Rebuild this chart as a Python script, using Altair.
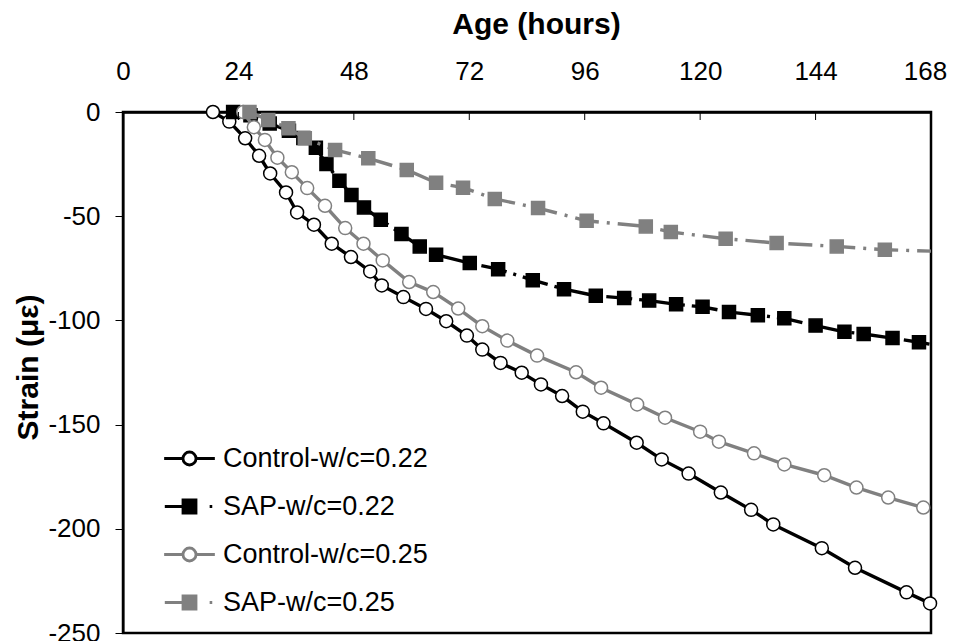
import altair as alt
import pandas as pd

# ---------------- data ----------------
series_names = ["Control-w/c=0.22", "SAP-w/c=0.22", "Control-w/c=0.25", "SAP-w/c=0.25"]

x_ticks = [0, 24, 48, 72, 96, 120, 144, 168]
y_ticks = [-250, -200, -150, -100, -50, 0]

c22_age = [18.7, 22.1, 25.4, 28.3, 30.6, 33.9, 36.2, 39.7, 43.4, 47.4, 51.4, 53.8, 58.3, 63.0,
           67.2, 71.5, 74.7, 78.5, 82.9, 86.9, 91.3, 95.6, 99.9, 106.8, 112.0, 117.6, 124.3,
           130.6, 135.2, 145.3, 152.2, 162.9, 167.8]
c22_strain = [0, -4.6, -12.6, -21.0, -29.5, -38.6, -48.2, -54.1, -63.2, -69.6, -76.5, -83.2, -88.8,
              -94.5, -100.4, -107.3, -114.0, -120.4, -125.1, -130.7, -136.3, -143.8, -149.4,
              -158.7, -166.7, -173.5, -182.6, -190.9, -197.9, -209.3, -218.7, -230.5, -235.8]

s22_age = [22.9, 26.5, 30.5, 34.5, 37.5, 40.1, 42.3, 45.0, 47.5, 50.1, 53.6, 57.9, 61.7, 65.1,
           72.1, 78.0, 85.2, 91.7, 98.3, 104.2, 109.4, 115.0, 120.5, 126.0, 132.0, 137.5, 144.0,
           150.0, 154.0, 160.0, 165.5, 174.0]
s22_strain = [0, -1.5, -5.5, -9.0, -12.5, -17.1, -25.0, -33.0, -39.8, -45.8, -51.7, -58.6, -64.5,
              -68.5, -72.5, -75.4, -80.7, -85.0, -88.2, -89.3, -90.5, -92.3, -93.5, -96.0, -97.5,
              -99.0, -102.5, -105.5, -106.5, -108.5, -110.5, -114.0]

c25_age = [25.0, 27.2, 29.5, 32.1, 35.1, 38.3, 42.0, 46.2, 50.0, 54.0, 59.5, 64.5, 69.7, 74.7,
           79.9, 86.1, 94.2, 99.4, 106.9, 112.7, 120.0, 123.9, 131.2, 137.5, 145.8, 152.5,
           159.1, 166.4]
c25_strain = [0, -7.3, -13.4, -21.9, -28.9, -36.5, -45.0, -55.7, -63.2, -71.2, -81.6, -86.4,
              -94.3, -102.8, -109.7, -116.9, -124.9, -132.3, -140.3, -146.7, -153.4, -158.2,
              -163.8, -169.1, -174.3, -180.2, -185.0, -189.8]

s25_age = [26.3, 30.2, 34.4, 37.8, 44.1, 51.0, 59.0, 65.1, 70.7, 77.3, 86.3, 96.4, 108.7, 113.9,
           125.3, 135.9, 148.4, 158.4, 175.0]
s25_strain = [0, -3.8, -7.8, -12.6, -18.2, -22.2, -27.8, -33.9, -36.3, -41.7, -46.1, -52.2,
              -54.9, -57.6, -60.8, -62.9, -64.5, -66.1, -67.2]

series_data = [(series_names[0], c22_age, c22_strain),
               (series_names[1], s22_age, s22_strain),
               (series_names[2], c25_age, c25_strain),
               (series_names[3], s25_age, s25_strain)]

rows = []
for name, ages, strains in series_data:
    for a, s in zip(ages, strains):
        rows.append({"series": name, "age": a, "strain": s})
df = pd.DataFrame(rows)
ticks_df = pd.DataFrame({"age": x_ticks[1:-1]})

# ---------------- styles ----------------
FONT = "Liberation Sans"
BLACK = "#000000"
GRAY = "#808080"
line_color = [BLACK, BLACK, GRAY, GRAY]
marker_fill = ["#ffffff", BLACK, "#ffffff", GRAY]
marker_shape = ["circle", "square", "circle", "square"]
dashes = [None, [26, 7, 3, 7], None, [24, 8, 3, 8]]

legend_paths = [
    "M-3.9,0H-1M1,0H3.9M1,0A1,1,0,1,1,-1,0A1,1,0,1,1,1,0Z",
    "M-3.8,0H-1M-1,-1H1V1H-1ZM3.1,0H3.5",
    "M-3.9,0H-1M1,0H3.9M1,0A1,1,0,1,1,-1,0A1,1,0,1,1,1,0Z",
    "M-3.8,0H-1M-1,-1H1V1H-1ZM3.1,0H3.5",
]

x_enc = alt.X("age:Q",
              scale=alt.Scale(domain=[0, 168], nice=False, zero=False),
              axis=alt.Axis(orient="top", values=x_ticks, title="Age (hours)",
                            ticks=False, tickSize=0, labelPadding=28, grid=False,
                            labelFlush=False, labelOverlap=False,
                            labelOffset={"condition": {"test": "datum.value == 168", "value": -6},
                                         "value": 0},
                            domainColor=BLACK, domainWidth=2.5,
                            labelFont=FONT, labelFontSize=26, labelColor=BLACK,
                            titleFont=FONT, titleFontSize=30, titleFontWeight="bold",
                            titleColor=BLACK, titlePadding=19, titleX=413))
y_enc = alt.Y("strain:Q",
              scale=alt.Scale(domain=[-250, 0], nice=False, zero=False),
              axis=alt.Axis(orient="left", values=y_ticks, title="Strain (με)",
                            tickSize=8, tickColor=BLACK, tickWidth=1, labelPadding=15,
                            labelFlush=False, labelOverlap=False,
                            grid=False, domainColor=BLACK, domainWidth=2,
                            labelExpr="'' + datum.value",
                            labelFont=FONT, labelFontSize=26, labelColor=BLACK,
                            titleFont=FONT, titleFontSize=30, titleFontWeight="bold",
                            titleColor=BLACK, titlePadding=4, titleY=255))

base = alt.Chart(df)
layers = []
for i, name in enumerate(series_names):
    line_kw = dict(color=line_color[i], strokeWidth=3.4, clip=True)
    if dashes[i]:
        line_kw["strokeDash"] = dashes[i]
    sub = base.transform_filter(alt.datum.series == name)
    layers.append(sub.mark_line(**line_kw).encode(x=x_enc, y=y_enc, order="age:Q"))
    layers.append(
        sub.transform_filter(alt.datum.age <= 168).mark_point(
            shape=marker_shape[i], size=169, filled=False, fill=marker_fill[i],
            stroke=line_color[i], strokeWidth=1.5, opacity=1, fillOpacity=1
        ).encode(x=x_enc, y=y_enc)
    )

# inward tick marks on the top axis
tick_layer = alt.Chart(ticks_df).mark_rule(color=BLACK, strokeWidth=1).encode(
    x=alt.X("age:Q"), y=alt.value(0), y2=alt.value(8))

# legend (driven by scales, no marks drawn)
leg = alt.Legend(title=None, orient="none", legendX=53, legendY=333,
                 labelFont=FONT, labelFontSize=27, labelColor=BLACK, labelLimit=400,
                 labelOffset=20, rowPadding=20, padding=0, symbolSize=169,
                 symbolStrokeWidth=2.8, symbolOpacity=1)
legend_layer = base.transform_filter("false").mark_point(
    filled=False, strokeWidth=2.8, opacity=1).encode(
    x=alt.X("age:Q"), y=alt.Y("strain:Q"),
    shape=alt.Shape("series:N", scale=alt.Scale(domain=series_names, range=legend_paths),
                    legend=leg, sort=series_names),
    stroke=alt.Stroke("series:N", scale=alt.Scale(domain=series_names, range=line_color),
                      legend=leg, sort=series_names),
    fill=alt.Fill("series:N", scale=alt.Scale(domain=series_names, range=marker_fill),
                  legend=leg, sort=series_names),
)

chart = alt.layer(*layers, tick_layer, legend_layer).properties(
    width=808, height=521,
    autosize=alt.AutoSizeParams(type="none"),
    padding={"left": 115, "top": 104, "right": 18, "bottom": 8},
    background="white",
).configure_view(stroke=BLACK, strokeWidth=2.5)

chart.save("out.html", embed_options={"renderer": "svg", "actions": False})
